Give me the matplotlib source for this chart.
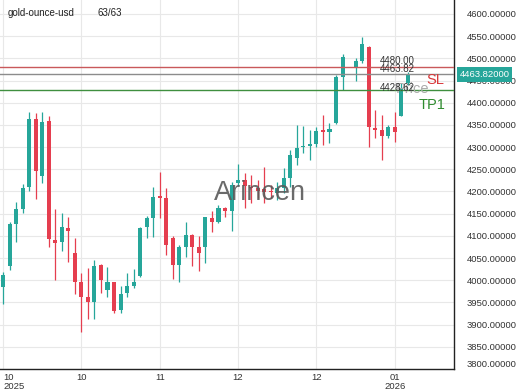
import matplotlib
matplotlib.use('Agg')
import matplotlib.pyplot as plt
import numpy as np

plt.rcParams['font.family'] = ['Liberation Sans', 'DejaVu Sans']

# daily OHLC, gold ounce in usd (63 bars)
opens = [3985, 4033, 4127, 4160, 4210, 4364, 4236, 4359, 4091, 4087,
         4117, 4061, 3995, 3963, 3952, 4035, 3977, 3995, 3932, 3971,
         3986, 4010, 4119, 4140, 4189, 4185, 4095, 4035, 4075, 4102,
         4076, 4075, 4140, 4132, 4162, 4157, 4220, 4225, 4211, 4208,
         4205, 4202, 4196, 4207, 4230, 4275, 4300, 4302, 4307, 4338,
         4335, 4354, 4459, np.nan, 4481, 4493, 4526, 4343, 4339, 4324,
         4346, 4370, 4444]
highs = [4019, 4132, 4177, 4216, 4378, 4376, 4379, 4370, 4160, 4151,
         4142, 4095, 4016, 4027, 4046, 4037, 4030, 3997, 3987, 4016,
         4025, 4121, 4145, 4210, 4245, 4207, 4099, 4080, 4132, 4104,
         4099, 4143, 4157, 4170, 4166, 4222, 4262, 4241, 4237, 4225,
         4256, 4215, 4222, 4253, 4294, 4350, 4348, 4339, 4345, 4373,
         4354, 4462, 4510, np.nan, 4500, 4549, 4528, 4384, 4373, 4350,
         4380, 4444, 4470]
lows = [3947, 4023, 4087, 4151, 4200, 4183, 4219, 4076, 4001, 4065,
        4042, 3969, 3884, 3912, 3912, 3971, 3963, 3926, 3927, 3962,
        3982, 4008, 4095, 4097, 4140, 4057, 4003, 3995, 4052, 4033,
        4020, 4039, 4108, 4129, 4142, 4110, 4212, 4162, 4174, 4185,
        4174, 4185, 4181, 4196, 4211, 4260, 4286, 4271, 4301, 4305,
        4309, 4352, 4429, np.nan, 4448, 4489, 4301, 4320, 4271, 4320,
        4312, 4369, 4440]
closes = [4012, 4127, 4160, 4207, 4364, 4246, 4357, 4093, 4085, 4119,
          4112, 3997, 3963, 3952, 4033, 4001, 3995, 3930, 3969, 3986,
          3997, 4117, 4140, 4187, 4185, 4080, 4035, 4075, 4102, 4076,
          4062, 4142, 4132, 4162, 4157, 4215, 4226, 4213, 4207, 4202,
          4199, 4198, 4207, 4230, 4282, 4298, 4303, 4308, 4337, 4335,
          4340, 4459, 4504, np.nan, 4494, 4532, 4345, 4339, 4325, 4346,
          4333, 4433, 4463.82]

tick_pos = [0, 12, 24, 36, 48, 60]
tick_labels = ['10\n2025', '10', '11', '12', '12', '01\n2026']

stop_loss = 4480.00
last_price = 4463.82
take_profit = 4428.62

green = '#26a69a'
red = '#e53e4f'

o = np.array(opens, dtype=float)
h = np.array(highs, dtype=float)
l = np.array(lows, dtype=float)
c = np.array(closes, dtype=float)
x = np.arange(len(o))
up = c >= o
cols = np.where(up, green, red)

fig = plt.figure(figsize=(5.2, 3.9), dpi=100)
ax = fig.add_axes([0, 21/390, 454/520, 369/390])

# wicks and bodies
ax.vlines(x, l, h, colors=cols, linewidth=0.9, zorder=2)
body_bot = np.minimum(o, c)
body_h = np.maximum(np.abs(c - o), 1.5)
ax.bar(x, body_h, bottom=body_bot, width=0.62, color=cols, linewidth=0, zorder=3)

# levels
ax.axhline(stop_loss, color='#c9595b', linewidth=1.0, zorder=4)
ax.axhline(last_price, color='#8c8c8c', linewidth=1.0, zorder=4)
ax.axhline(take_profit, color='#3f8f3f', linewidth=1.0, zorder=4)

ax.text(60.2, 4432, 'Price', fontsize=10.5, color='#ababab', va='center', ha='left', zorder=5)
ax.text(57.7, 4493, '%.2f' % stop_loss, fontsize=7, color='#333333', va='center', ha='left', zorder=6)
ax.text(57.7, 4475, '%.2f' % last_price, fontsize=7, color='#333333', va='center', ha='left', zorder=6)
ax.text(57.7, 4434, '%.2f' % take_profit, fontsize=7, color='#333333', va='center', ha='left', zorder=6)
ax.text(66.2, 4451, 'SL', fontsize=10.5, color='#d9383a', va='center', ha='center', zorder=6)
ax.text(65.7, 4395, 'TP1', fontsize=10.5, color='#2e8b2e', va='center', ha='center', zorder=6)

# watermark
ax.text(39.4, 4197, 'Arincen', fontsize=19.5, color='#5a5a5a', alpha=0.9,
        va='center', ha='center', zorder=7)

ax.set_xlim(-0.46, 69.07)
ax.set_ylim(3800, 4631.5)

ax.yaxis.tick_right()
yt = np.arange(3800, 4601, 50)
ax.set_yticks(yt)
ax.set_yticklabels(['%.5f' % v for v in yt])
ax.tick_params(axis='y', length=0, pad=9, labelsize=6.8, labelcolor='#333333')
ax.get_yticklabels()[0].set_va('bottom')

ax.set_xticks(tick_pos)
ax.set_xticklabels(tick_labels, linespacing=0.95)
ax.tick_params(axis='x', length=0, pad=3, labelsize=6.8, labelcolor='#333333')
ax.get_xticklabels()[0].set_ha('left')

ax.grid(True, color='#e8e8e8', linewidth=0.8, zorder=0)
ax.set_axisbelow(True)
for s in ['left', 'top']:
    ax.spines[s].set_visible(False)
for s in ['right', 'bottom']:
    ax.spines[s].set_color('#222222')
    ax.spines[s].set_linewidth(1.0)

# current price tag on the axis
ax.annotate('%.5f' % last_price, xy=(1.0, last_price), xycoords=('axes fraction', 'data'),
            xytext=(4, 0), textcoords='offset points', fontsize=6.8, color='white',
            va='center', ha='left', annotation_clip=False, zorder=10,
            bbox=dict(boxstyle='square,pad=0.3', facecolor=green, edgecolor='none'))

fig.text(8/520, 1 - 13/390, 'gold-ounce-usd', fontsize=7, color='#222222', va='center')
fig.text(97/520, 1 - 13/390, '63/63', fontsize=7, color='#222222', va='center')

fig.savefig('out.png', dpi=100)
